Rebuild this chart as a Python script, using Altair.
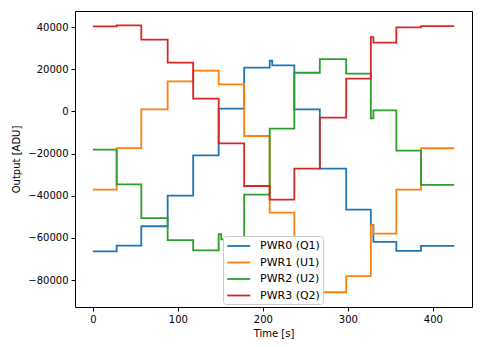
import altair as alt
import pandas as pd

# Segment start times [s]; last entry is the end of the record
times = [0, 28, 57, 88, 118, 148, 178, 208, 237, 267, 298, 327, 357, 386, 425]

series_names = ["PWR0 (Q1)", "PWR1 (U1)", "PWR2 (U2)", "PWR3 (Q2)"]
colors = ["#1f77b4", "#ff7f0e", "#2ca02c", "#d62728"]

pwr0 = [-66400, -63700, -54500, -40000, -20900, 1300, 20700, 21800, 950, -27200, -46600, -61900, -66200, -63800]
pwr1 = [-37100, -17400, 950, 14200, 19300, 12800, -11700, -48000, -85800, -85800, -78200, -58000, -37100, -17500]
pwr2 = [-18200, -34600, -50600, -61100, -65900, -60700, -39500, -8200, 18300, 24800, 17900, 500, -18600, -34900]
pwr3 = [40300, 40800, 34000, 23100, 6000, -15200, -35400, -41900, -27200, -3000, 15500, 32600, 39800, 40400]

# transient spikes right after a step: (segment index, value)
spikes = {
    "PWR0 (Q1)": [(7, 24000), (11, -54000)],
    "PWR1 (U1)": [(11, -54000)],
    "PWR2 (U2)": [(5, -58300), (11, -3300)],
    "PWR3 (Q2)": [(11, 35200)],
}

levels = [pwr0, pwr1, pwr2, pwr3]

rows = []
for name, lv in zip(series_names, levels):
    sp = dict(spikes.get(name, []))
    for i, v in enumerate(lv):
        t = times[i]
        if i in sp:
            rows.append({"series": name, "t": t, "v": sp[i]})
            rows.append({"series": name, "t": t + 3, "v": v})
        else:
            rows.append({"series": name, "t": t, "v": v})
    rows.append({"series": name, "t": times[-1], "v": lv[-1]})

df = pd.DataFrame(rows)

chart = alt.Chart(df).mark_line(interpolate="step-after", strokeWidth=1.8).encode(
    x=alt.X("t:Q", title="Time [s]",
            scale=alt.Scale(domain=[-21, 446], nice=False, zero=False),
            axis=alt.Axis(values=[0, 100, 200, 300, 400], grid=False, tickSize=4,
                          domain=False, labelPadding=3, titlePadding=4)),
    y=alt.Y("v:Q", title="Output [ADU]",
            scale=alt.Scale(domain=[-92800, 47600], nice=False, zero=False),
            axis=alt.Axis(values=[-80000, -60000, -40000, -20000, 0, 20000, 40000],
                          format="d", grid=False, tickSize=4, domain=False,
                          labelPadding=3, titlePadding=6)),
    color=alt.Color("series:N", title=None,
                    scale=alt.Scale(domain=series_names, range=colors),
                    legend=alt.Legend(orient="none", legendX=148, legendY=225,
                                      symbolType="M-1,0L3,0", symbolSize=132,
                                      symbolStrokeWidth=1.8, labelFontSize=11,
                                      padding=3, rowPadding=4.5, labelOffset=20,
                                      strokeColor="#cccccc", fillColor="white",
                                      cornerRadius=3)),
    order="t:Q",
).properties(
    width=397, height=296,
    padding={"left": 75, "top": 11, "right": 11, "bottom": 40},
    autosize=alt.AutoSizeParams(type="none"),
    background="white",
).configure_view(
    stroke="black", strokeWidth=1
).configure_axis(
    labelFont="DejaVu Sans", titleFont="DejaVu Sans", labelFontSize=10,
    titleFontSize=10, titleFontWeight="normal", labelColor="black",
    titleColor="black", tickColor="black"
).configure_legend(
    labelFont="DejaVu Sans", labelColor="black"
)

chart.save("out.html", embed_options={"renderer": "svg", "actions": False})
